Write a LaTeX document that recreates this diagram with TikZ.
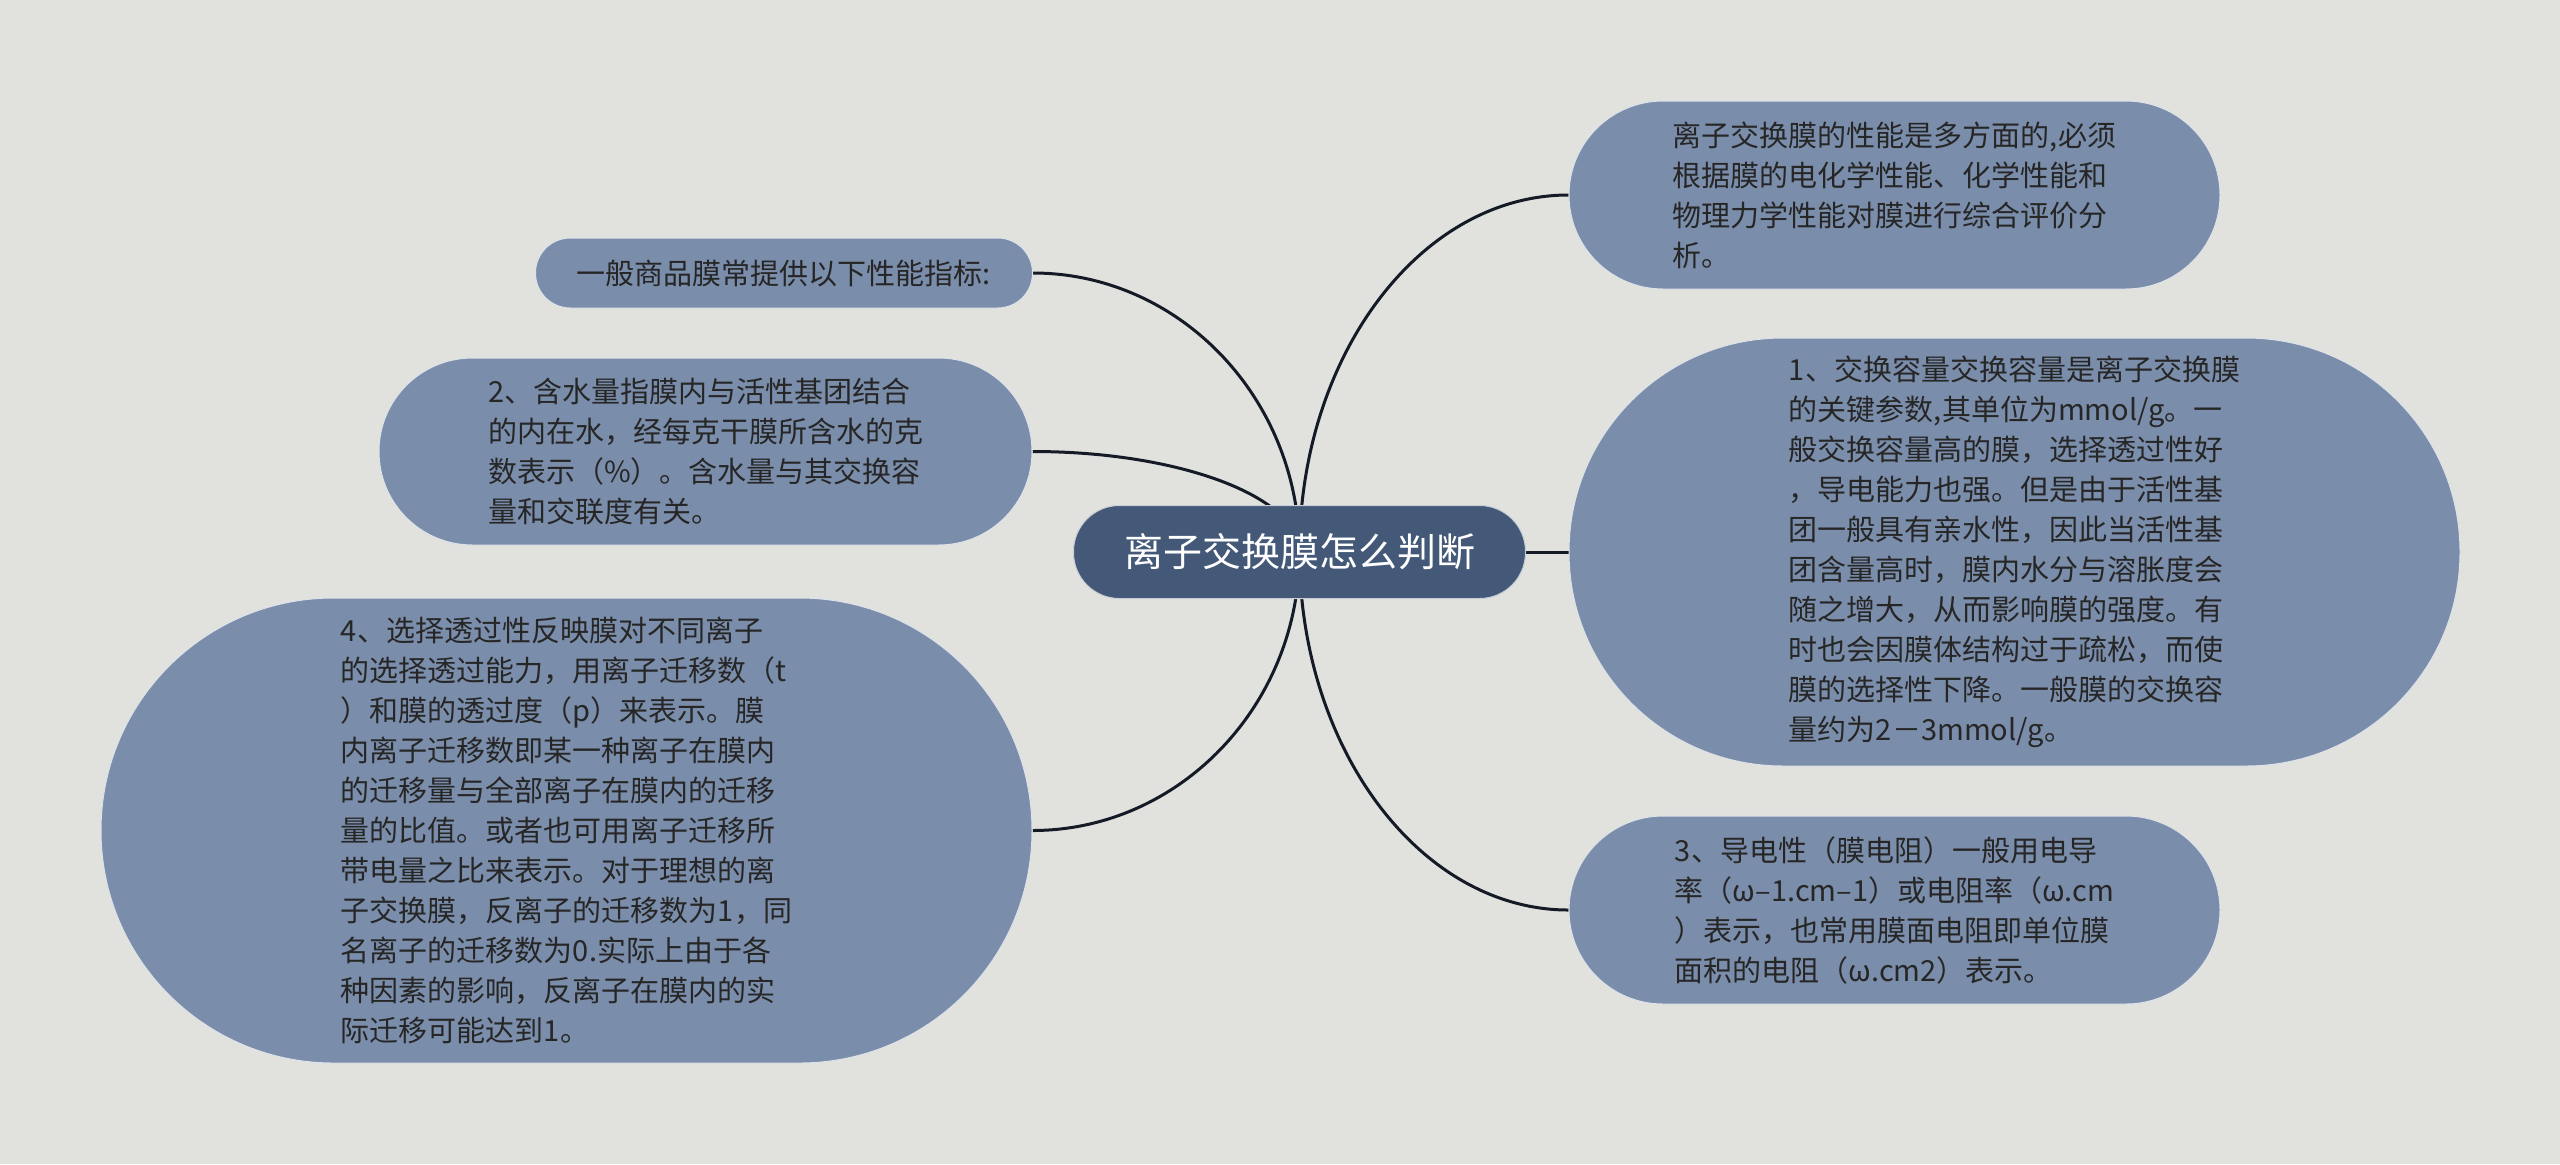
\documentclass[tikz,border=0pt]{standalone}
\usepackage{fontspec}
\setmainfont{Noto Sans CJK SC}
\usetikzlibrary{calc}
\definecolor{bgc}{HTML}{E1E2DD}
\definecolor{leaffill}{HTML}{7A8DAA}
\definecolor{rootfill}{HTML}{435977}
\definecolor{txt}{HTML}{262626}
\definecolor{linec}{HTML}{141B26}
\pgfdeclarelayer{bglayer}
\pgfdeclarelayer{linelayer}
\pgfsetlayers{bglayer,linelayer,main}
\tikzset{
  leaf/.style={rectangle, fill=leaffill, draw=white!75!leaffill, line width=0.5pt, text=txt, align=left,
    font=\fontsize{14.5pt}{20pt}\selectfont, inner sep=0pt},
  rootnode/.style={rectangle, fill=rootfill, draw=white!70!rootfill, line width=0.5pt, text=white,
    font=\fontsize{19.5pt}{24pt}\selectfont, inner sep=0pt,
    minimum width=226pt, minimum height=46.5pt, rounded corners=23pt},
  conn/.style={draw=linec, line width=1.5pt}
}
\newcommand{\branch}[2]{%
  \draw[conn] (#1.center) .. controls ($(#1.center)!0.55!(#1.center |- #2)$) and ($(#1.center |- #2)!0.45!(#2)$) .. (#2);}
\begin{document}
\begin{tikzpicture}[x=0.5pt,y=-0.5pt]
\begin{pgfonlayer}{bglayer}
\fill[bgc] (0,0) rectangle (2560,1164);
\end{pgfonlayer}
\useasboundingbox (0,0) rectangle (2560,1164);

\node[rootnode] (c) at (1299.5,552) {离子交换膜怎么判断};

\node[leaf, minimum width=325.5pt, minimum height=94pt, rounded corners=47pt] (a) at (1894.5,195)
{离子交换膜的性能是多方面的,必须\\根据膜的电化学性能、化学性能和\\物理力学性能对膜进行综合评价分\\析。};

\node[leaf, minimum width=445.5pt, minimum height=214pt, rounded corners=106.9pt] (b) at (2014.5,552)
{1、交换容量交换容量是离子交换膜\\的关键参数,其单位为mmol/g。一\\般交换容量高的膜，选择透过性好\\，导电能力也强。但是由于活性基\\团一般具有亲水性，因此当活性基\\团含量高时，膜内水分与溶胀度会\\随之增大，从而影响膜的强度。有\\时也会因膜体结构过于疏松，而使\\膜的选择性下降。一般膜的交换容\\量约为2－3mmol/g。};

\node[leaf, minimum width=325.5pt, minimum height=94pt, rounded corners=47pt] (cc) at (1894.5,910)
{3、导电性（膜电阻）一般用电导\\率（ω–1.cm–1）或电阻率（ω.cm\\）表示，也常用膜面电阻即单位膜\\面积的电阻（ω.cm2）表示。};

\node[leaf, minimum width=248.5pt, minimum height=35pt, rounded corners=17.4pt] (d) at (784,273)
{一般商品膜常提供以下性能指标:};

\node[leaf, minimum width=326.5pt, minimum height=93.5pt, rounded corners=46.7pt] (e) at (705.5,451.5)
{2、含水量指膜内与活性基团结合\\的内在水，经每克干膜所含水的克\\数表示（\%）。含水量与其交换容\\量和交联度有关。};

\node[leaf, minimum width=465.5pt, minimum height=232.5pt, rounded corners=116.2pt] (f) at (566.5,830.5)
{4、选择透过性反映膜对不同离子\\的选择透过能力，用离子迁移数（t\\）和膜的透过度（p）来表示。膜\\内离子迁移数即某一种离子在膜内\\的迁移量与全部离子在膜内的迁移\\量的比值。或者也可用离子迁移所\\带电量之比来表示。对于理想的离\\子交换膜，反离子的迁移数为1，同\\名离子的迁移数为0.实际上由于各\\种因素的影响，反离子在膜内的实\\际迁移可能达到1。};

\begin{pgfonlayer}{linelayer}
\branch{c}{a.west}
\draw[conn] (c.center) -- (b.west);
\branch{c}{cc.west}
\branch{c}{d.east}
\branch{c}{e.east}
\branch{c}{f.east}
\end{pgfonlayer}
\end{tikzpicture}
\end{document}
